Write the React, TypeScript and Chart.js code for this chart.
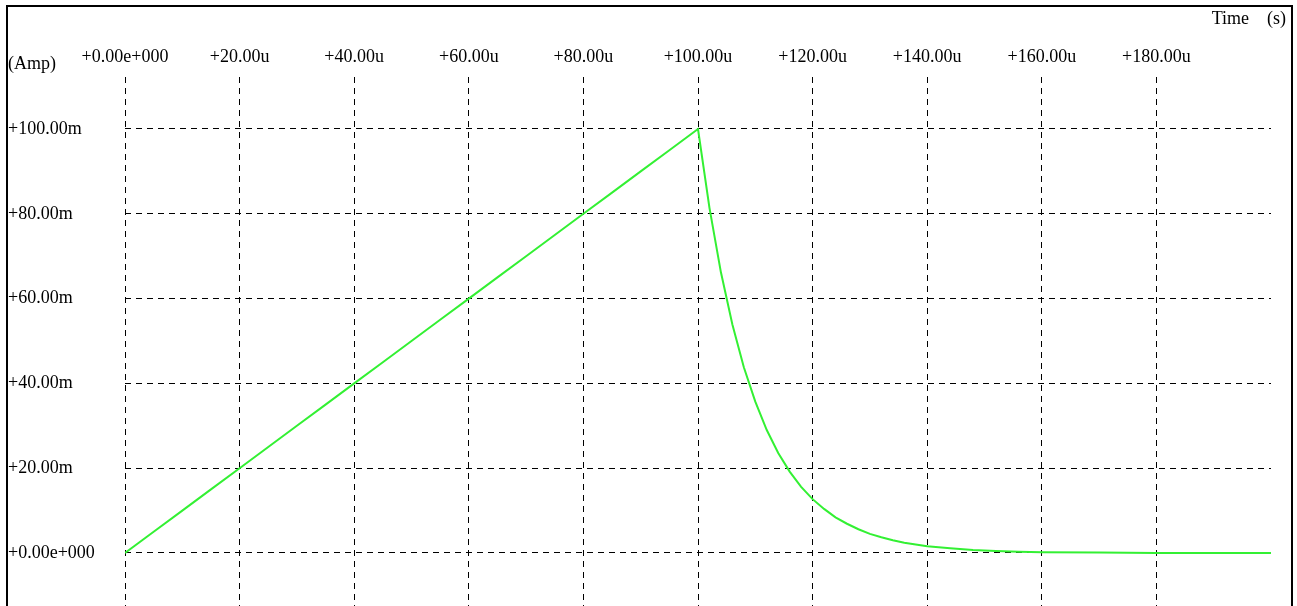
import React, { useEffect, useRef } from 'react';
import { Chart, registerables } from 'chart.js';

Chart.register(...registerables);

// Time in microseconds
const timeUs = [
  0, 5, 10, 15, 20, 25, 30, 35, 40, 45, 50, 55, 60, 65, 70, 75, 80, 85, 90, 95, 100,
  102, 104, 106, 108, 110, 112, 114, 116, 118, 120, 122, 124, 126, 128, 130,
  132, 134, 136, 138, 140, 144, 148, 152, 156, 160, 170, 180, 190, 200,
];
// Current in milliamps
const currentMa = [
  0, 5, 10, 15, 20, 25, 30, 35, 40, 45, 50, 55, 60, 65, 70, 75, 80, 85, 90, 95, 100,
  81.4, 66.2, 53.9, 43.8, 35.7, 29.0, 23.6, 19.2, 15.6, 12.7, 10.4, 8.4, 6.9, 5.6, 4.5,
  3.7, 3.0, 2.4, 2.0, 1.6, 1.1, 0.7, 0.5, 0.3, 0.2, 0.1, 0, 0, 0,
];

const xTickValues = [0, 20, 40, 60, 80, 100, 120, 140, 160, 180];
const xTickLabels = [
  '+0.00e+000', '+20.00u', '+40.00u', '+60.00u', '+80.00u',
  '+100.00u', '+120.00u', '+140.00u', '+160.00u', '+180.00u',
];
const yTickValues = [0, 20, 40, 60, 80, 100];
const yTickLabels = ['+0.00e+000', '+20.00m', '+40.00m', '+60.00m', '+80.00m', '+100.00m'];

const FONT_FAMILY = "'Liberation Serif', 'Times New Roman', serif";
const FONT_SIZE = 18;

const framePlugin = {
  id: 'frameAndTitles',
  afterDraw(chart: any) {
    const ctx = chart.ctx;
    ctx.save();
    ctx.strokeStyle = '#000';
    ctx.lineWidth = 2;
    ctx.setLineDash([]);
    ctx.strokeRect(7, 6, 1285, 700);
    ctx.fillStyle = '#000';
    ctx.font = `${FONT_SIZE}px ${FONT_FAMILY}`;
    ctx.textBaseline = 'middle';
    ctx.textAlign = 'left';
    ctx.fillText('(Amp)', 8, 64);
    ctx.textAlign = 'right';
    ctx.fillText('(s)', 1286, 19);
    ctx.fillText('Time', 1249, 19);
    ctx.restore();
  },
};

export default function App() {
  const canvasRef = useRef<HTMLCanvasElement | null>(null);

  useEffect(() => {
    if (!canvasRef.current) return;
    const chart = new Chart(canvasRef.current, {
      type: 'line',
      data: {
        datasets: [
          {
            data: timeUs.map((t, i) => ({ x: t, y: currentMa[i] })),
            borderColor: '#33f033',
            borderWidth: 2,
            pointRadius: 0,
            tension: 0,
            fill: false,
          },
        ],
      },
      options: {
        animation: false,
        responsive: false,
        events: [],
        layout: { padding: { left: 8, right: 26, top: 0, bottom: 0 } },
        plugins: {
          legend: { display: false },
          tooltip: { enabled: false },
          title: { display: false },
        },
        scales: {
          x: {
            type: 'linear',
            position: 'top',
            min: 0,
            max: 200,
            afterBuildTicks: (scale: any) => {
              scale.ticks = xTickValues.map((v) => ({ value: v }));
            },
            afterFit: (scale: any) => {
              scale.height = 77;
              scale.paddingLeft = 0;
              scale.paddingRight = 0;
            },
            ticks: {
              autoSkip: false,
              maxRotation: 0,
              padding: 9,
              color: '#000',
              font: { family: FONT_FAMILY, size: FONT_SIZE },
              callback: (_v: any, i: number) => xTickLabels[i],
            },
            grid: {
              color: '#000',
              lineWidth: 1,
              drawTicks: false,
            },
            border: { display: false, dash: [6, 5] },
          },
          y: {
            type: 'linear',
            min: -12.5,
            max: 112.26,
            afterBuildTicks: (scale: any) => {
              scale.ticks = yTickValues.map((v) => ({ value: v }));
            },
            afterFit: (scale: any) => {
              scale.width = 117;
              scale.paddingTop = 0;
              scale.paddingBottom = 0;
            },
            ticks: {
              autoSkip: false,
              crossAlign: 'far',
              color: '#000',
              font: { family: FONT_FAMILY, size: FONT_SIZE },
              callback: (_v: any, i: number) => yTickLabels[i],
            },
            grid: {
              color: '#000',
              lineWidth: 1,
              drawTicks: false,
            },
            border: { display: false, dash: [6, 5] },
          },
        },
      },
      plugins: [framePlugin],
    });
    return () => chart.destroy();
  }, []);

  return (
    <div style={{ position: 'absolute', left: 0, top: 0, width: 1297, height: 606, background: '#fff' }}>
      <canvas ref={canvasRef} width={1297} height={606} style={{ width: 1297, height: 606, display: 'block' }} />
    </div>
  );
}
